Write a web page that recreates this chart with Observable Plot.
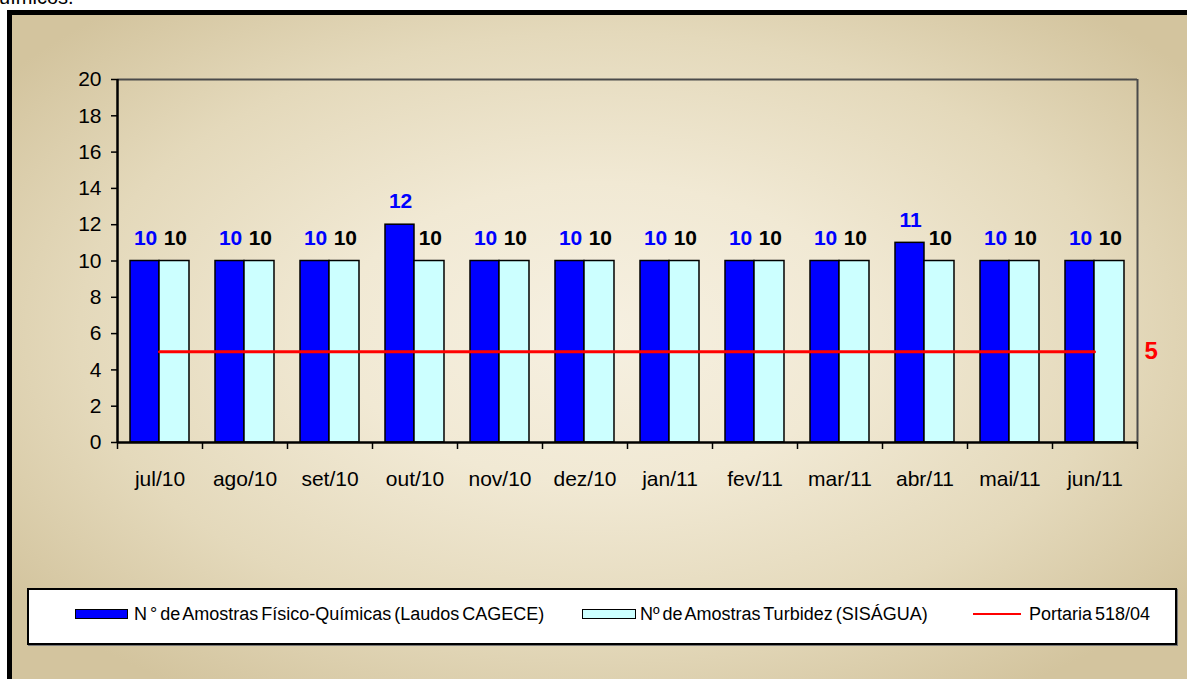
<!DOCTYPE html>
<html>
<head>
<meta charset="utf-8">
<script src="https://cdn.jsdelivr.net/npm/d3@7"></script>
<script src="https://cdn.jsdelivr.net/npm/@observablehq/plot@0.6"></script>
<style>
  html, body { margin: 0; padding: 0; background: #fff; width: 1187px; height: 679px; overflow: hidden; }
  body { position: relative; font-family: "Liberation Sans", Arial, sans-serif; }
  #title { position: absolute; left: -12px; top: -13px; font-size: 20px; line-height: 20px; color: #000; white-space: nowrap; }
  #frame { position: absolute; left: 7px; top: 10px; width: 1210px; height: 700px; box-sizing: border-box;
    border: 5px solid #000;
    background: radial-gradient(ellipse 62% 62% at 49% 46%, #f6f0e1 0%, #f1e9d4 35%, #e4d9bb 70%, #d3c49e 100%); }
  #chart { position: absolute; left: 0; top: 0; }
  #legend { position: absolute; left: 27px; top: 588px; width: 1150px; height: 57px; box-sizing: border-box;
    border: 2px solid #000; background: #fff; box-shadow: 1px 1px 0 #777; }
  .lg { position: absolute; font-size: 18px; line-height: 18px; color: #000; white-space: nowrap; word-spacing: -2px; }
  .sw { position: absolute; height: 10px; box-sizing: border-box; border: 1.5px solid #000; }
  .ln { position: absolute; height: 2px; background: #ff0000; }
</style>
</head>
<body>
<div id="title">químicos.</div>
<div id="frame"></div>
<div id="chart"></div>
<div id="legend"></div>
<script>
const months = ["jul/10","ago/10","set/10","out/10","nov/10","dez/10","jan/11","fev/11","mar/11","abr/11","mai/11","jun/11"];
const fisicoQuimicas = [10,10,10,12,10,10,10,10,10,11,10,10];
const turbidez = [10,10,10,10,10,10,10,10,10,10,10,10];
const portaria = [5,5,5,5,5,5,5,5,5,5,5,5];
const yTicks = [0,2,4,6,8,10,12,14,16,18,20];
const seriesNames = ["N\u00a0° de Amostras Físico-Químicas (Laudos CAGECE)", "Nº de Amostras Turbidez (SISÁGUA)", "Portaria 518/04"];
const colors = ["#0000ff", "#ccffff", "#ff0000"];

const data = months.map((m, i) => ({i, month: m, fq: fisicoQuimicas[i], tb: turbidez[i], p: portaria[i]}));
const font = "'Liberation Sans', Arial, sans-serif";

const chart = Plot.plot({
  width: 1187, height: 679,
  marginLeft: 117, marginRight: 50, marginTop: 79, marginBottom: 237,
  style: {background: "transparent", fontFamily: font, color: "#000"},
  x: {domain: [0, 12], axis: null},
  y: {domain: [0, 20], axis: null},
  marks: [
    Plot.ruleY([20], {stroke: "#4a4a4a", strokeWidth: 2}),
    Plot.ruleX([12], {stroke: "#4a4a4a", strokeWidth: 2}),
    Plot.rectY(data, {x1: d => d.i + 0.153, x2: d => d.i + 0.494, y: "fq", fill: colors[0], stroke: "#000", strokeWidth: 1.5}),
    Plot.rectY(data, {x1: d => d.i + 0.494, x2: d => d.i + 0.847, y: "tb", fill: colors[1], stroke: "#000", strokeWidth: 1.5}),
    Plot.lineY(data, {x: d => d.i + 0.494, y: "p", stroke: colors[2], strokeWidth: 3}),
    Plot.text(data.slice(-1), {x: 12, y: "p", text: d => String(d.p), dx: 7, textAnchor: "start", fill: colors[2], fontWeight: "bold", fontSize: 24, lineAnchor: "middle"}),
    Plot.text(data, {x: d => d.i + 0.33, y: "fq", text: d => String(d.fq), dy: -23, fill: colors[0], fontWeight: "bold", fontSize: 21, lineAnchor: "middle"}),
    Plot.text(data, {x: d => d.i + 0.68, y: "tb", text: d => String(d.tb), dy: -23, fill: "#000", fontWeight: "bold", fontSize: 21, lineAnchor: "middle"}),
    Plot.ruleX([0], {stroke: "#000", strokeWidth: 2.5}),
    Plot.ruleY([0], {stroke: "#000", strokeWidth: 2.5}),
    Plot.axisY({ticks: yTicks, tickSize: 6, tickPadding: 10, fontSize: 21, strokeWidth: 1.5, tickFormat: d => String(d)}),
    Plot.axisX({ticks: d3.range(13), tickSize: 7, strokeWidth: 1.5, tickFormat: () => ""}),
    Plot.axisX({ticks: d3.range(12).map(i => i + 0.5), tickSize: 0, tickPadding: 29, fontSize: 21, tickFormat: t => months[Math.floor(t)], style: {letterSpacing: "0.8px"}})
  ]
});
document.getElementById("chart").appendChild(chart);

// legend
const lg = document.getElementById("legend");
const items = [
  {type: "sw", color: colors[0], sx: 46, sw: 53, tx: 105, label: seriesNames[0]},
  {type: "sw", color: colors[1], sx: 553, sw: 54, tx: 611, label: seriesNames[1]},
  {type: "ln", color: colors[2], sx: 944, sw: 48, tx: 1000, label: seriesNames[2]}
];
items.forEach(it => {
  const s = document.createElement("div");
  s.className = it.type;
  s.style.left = it.sx + "px";
  s.style.width = it.sw + "px";
  s.style.top = it.type === "sw" ? "19px" : "23px";
  if (it.type === "sw") s.style.background = it.color;
  lg.appendChild(s);
  const t = document.createElement("div");
  t.className = "lg";
  t.style.left = it.tx + "px";
  t.style.top = "15px";
  t.textContent = it.label;
  lg.appendChild(t);
});
</script>
</body>
</html>
